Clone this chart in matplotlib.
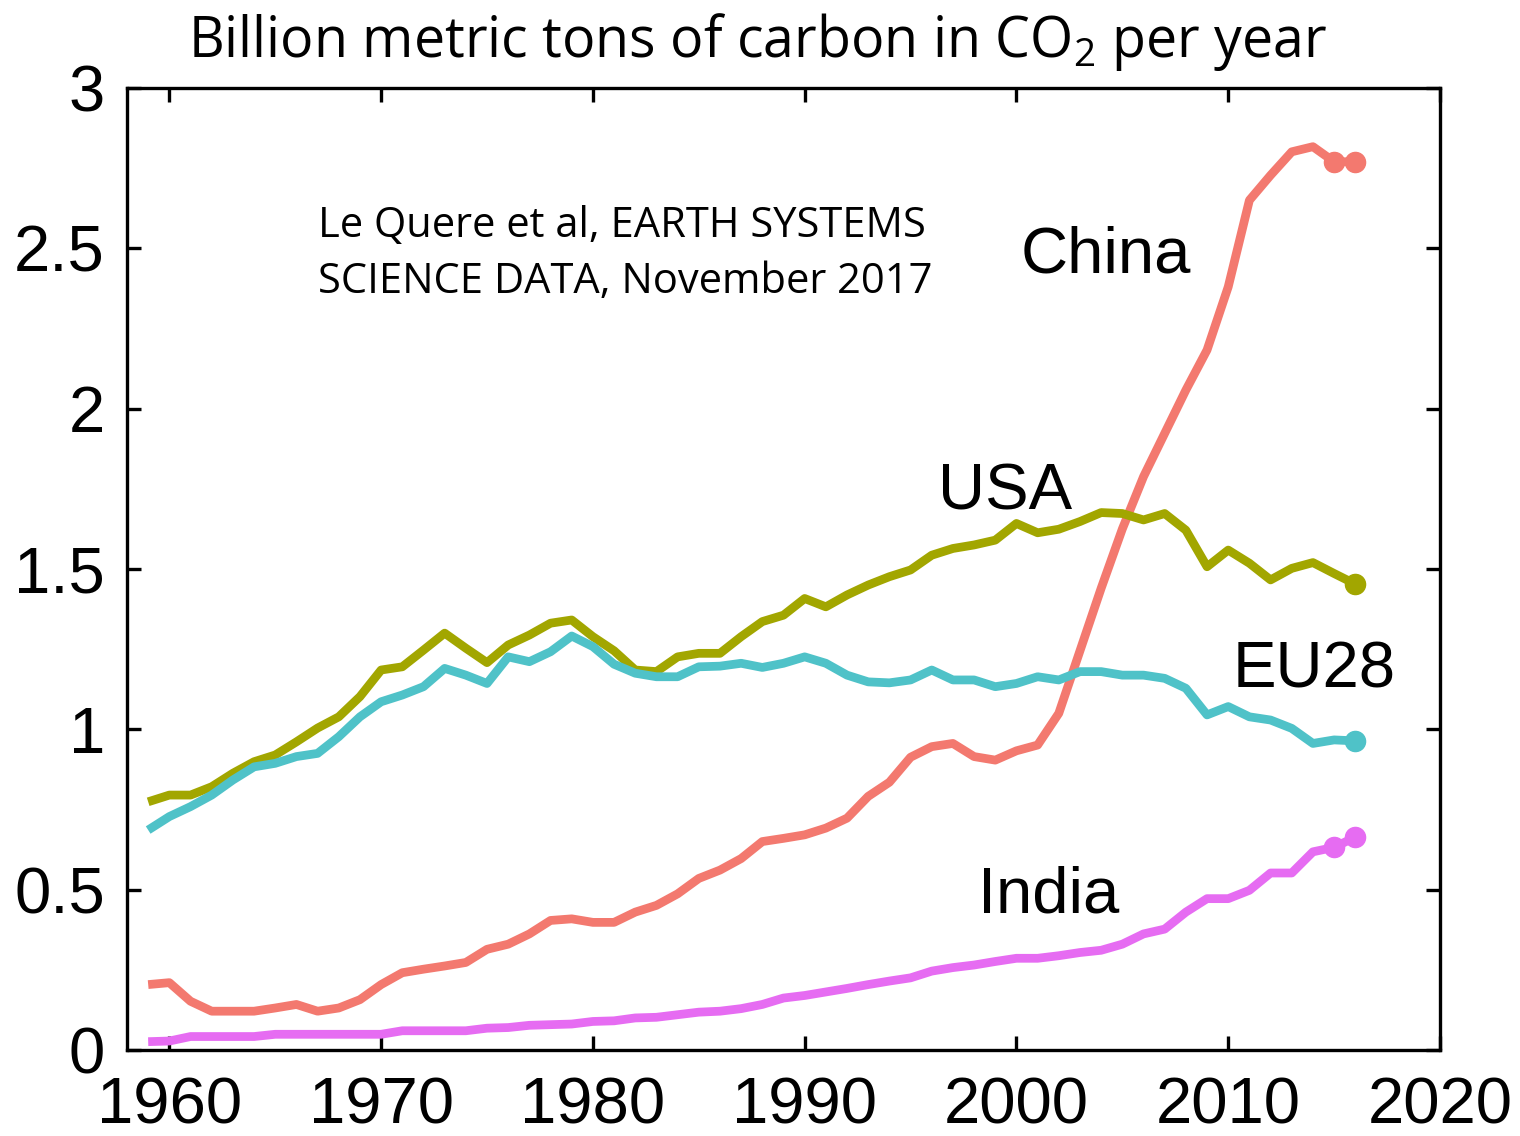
import numpy as np
import matplotlib
matplotlib.use("Agg")
import matplotlib.pyplot as plt

# Le Quere et al 2017, fossil CO2 emissions, GtC per year
years = np.arange(1959, 2017)

china = [0.204, 0.210, 0.152, 0.121, 0.121, 0.121, 0.131, 0.142, 0.121, 0.131,
         0.157, 0.204, 0.241, 0.252, 0.262, 0.273, 0.314, 0.330, 0.362, 0.404,
         0.409, 0.398, 0.398, 0.430, 0.451, 0.487, 0.535, 0.561, 0.597, 0.650,
         0.660, 0.671, 0.692, 0.723, 0.791, 0.835, 0.913, 0.946, 0.956, 0.915,
         0.904, 0.933, 0.951, 1.050, 1.245, 1.440, 1.625, 1.788, 1.923, 2.058,
         2.183, 2.380, 2.650, 2.728, 2.801, 2.817, 2.770, 2.770]

usa = [0.774, 0.795, 0.795, 0.821, 0.863, 0.899, 0.920, 0.961, 1.004, 1.039,
       1.102, 1.185, 1.195, 1.247, 1.300, 1.253, 1.208, 1.263, 1.294, 1.331,
       1.341, 1.289, 1.245, 1.185, 1.180, 1.226, 1.237, 1.237, 1.289, 1.336,
       1.356, 1.408, 1.382, 1.419, 1.450, 1.476, 1.497, 1.543, 1.564, 1.575,
       1.590, 1.642, 1.613, 1.624, 1.648, 1.676, 1.673, 1.653, 1.673, 1.621,
       1.507, 1.559, 1.518, 1.466, 1.502, 1.520, 1.486, 1.453]

eu28 = [0.686, 0.728, 0.759, 0.795, 0.842, 0.883, 0.894, 0.915, 0.925, 0.977,
        1.039, 1.086, 1.107, 1.133, 1.190, 1.169, 1.143, 1.226, 1.211, 1.242,
        1.291, 1.258, 1.203, 1.175, 1.164, 1.164, 1.195, 1.197, 1.206, 1.193,
        1.206, 1.226, 1.206, 1.169, 1.148, 1.145, 1.154, 1.185, 1.154, 1.154,
        1.133, 1.143, 1.164, 1.154, 1.180, 1.180, 1.169, 1.169, 1.159, 1.128,
        1.045, 1.071, 1.039, 1.029, 1.003, 0.956, 0.967, 0.964]

india = [0.026, 0.028, 0.042, 0.042, 0.042, 0.042, 0.049, 0.049, 0.049, 0.049,
         0.049, 0.049, 0.060, 0.060, 0.060, 0.060, 0.068, 0.070, 0.077, 0.079,
         0.081, 0.089, 0.091, 0.100, 0.102, 0.110, 0.118, 0.121, 0.129, 0.142,
         0.162, 0.170, 0.181, 0.192, 0.204, 0.215, 0.225, 0.246, 0.257, 0.265,
         0.276, 0.286, 0.286, 0.294, 0.304, 0.311, 0.330, 0.362, 0.377, 0.430,
         0.472, 0.472, 0.498, 0.552, 0.552, 0.618, 0.632, 0.664]

names = ["China", "USA", "EU28", "India"]
series = [china, usa, eu28, india]
colors = ["#F3796F", "#A2A600", "#4FC2C8", "#E66CF2"]
n_dots = [2, 1, 1, 2]  # projected points drawn as dots at the end

# label positions (year, value of baseline)
label_pos = [(2000.2, 2.426), (1996.3, 1.684), (2010.2, 1.129), (1998.2, 0.430)]

xticks = [1960, 1970, 1980, 1990, 2000, 2010, 2020]
yticks = [0, 0.5, 1, 1.5, 2, 2.5, 3]
ytick_labels = ["0", "0.5", "1", "1.5", "2", "2.5", "3"]


def main():
    plt.rcParams["mathtext.fontset"] = "custom"
    plt.rcParams["mathtext.rm"] = "Open Sans"

    fig = plt.figure(figsize=(15.2, 11.36), dpi=100)
    ax = fig.add_axes([127 / 1520, 1 - 1050 / 1136, 1313 / 1520, 962 / 1136])

    for vals, col, nd in zip(series, colors, n_dots):
        vals = np.array(vals)
        ax.plot(years, vals, color=col, lw=6.3, solid_joinstyle="round",
                solid_capstyle="butt", zorder=3)
        ax.plot(years[-nd:], vals[-nd:], "o", color=col, ms=14.5, zorder=4)

    tick_font = dict(family=["Liberation Sans", "DejaVu Sans"], size=47)
    for name, (x, y) in zip(names, label_pos):
        ax.text(x, y, name, ha="left", va="baseline", **tick_font)

    note_font = dict(family=["Open Sans", "DejaVu Sans"], size=30)
    ax.text(1967.0, 2.535, "Le Quere et al, EARTH SYSTEMS", ha="left",
            va="baseline", **note_font)
    ax.text(1967.0, 2.36, "SCIENCE DATA, November 2017", ha="left",
            va="baseline", **note_font)

    fig.text(0.4987, 1 - 57 / 1136, r"Billion metric tons of carbon in CO$_2$ per year",
             ha="center", va="baseline", family=["Open Sans", "DejaVu Sans"], size=40)

    ax.set_xlim(1958, 2020)
    ax.set_ylim(0, 3)
    ax.set_xticks(xticks)
    ax.set_yticks(yticks)
    ax.set_yticklabels(ytick_labels)
    for lab in ax.get_xticklabels() + ax.get_yticklabels():
        lab.set_fontfamily(["Liberation Sans", "DejaVu Sans"])
        lab.set_fontsize(47)
    ax.tick_params(direction="in", length=10, width=2.4, top=True, right=True)
    ax.tick_params(axis="x", pad=19)
    ax.tick_params(axis="y", pad=16)
    for sp in ax.spines.values():
        sp.set_linewidth(2.4)

    fig.savefig("out.png", dpi=100, facecolor="white")


if __name__ == "__main__":
    main()
